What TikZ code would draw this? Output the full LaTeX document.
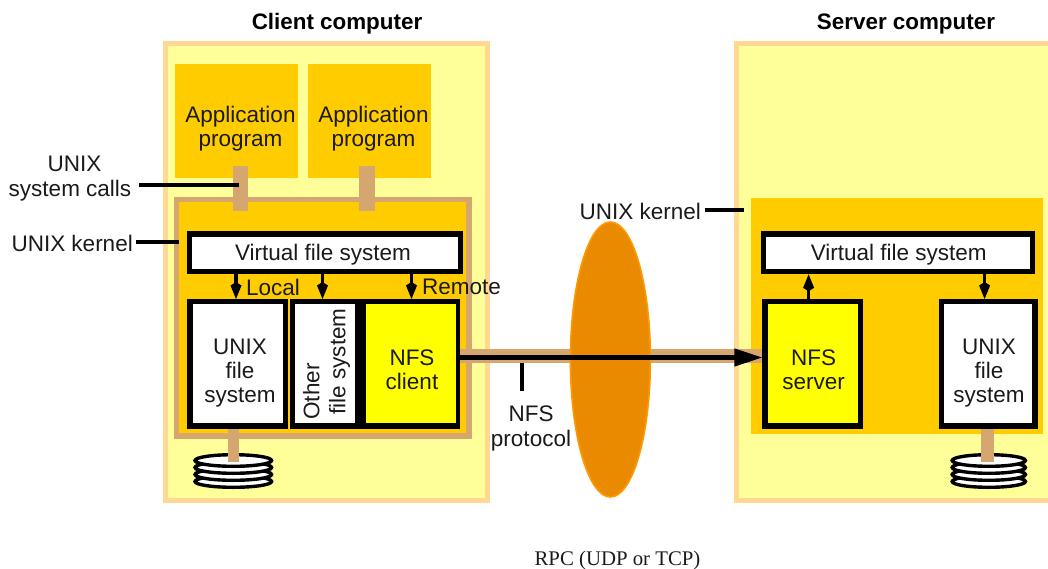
\documentclass[tikz,border=0pt]{standalone}
\usepackage{fontspec}
\setmainfont{Liberation Sans}
\newfontfamily\rpcfont{Liberation Serif}
\usetikzlibrary{arrows.meta,shapes.geometric}
\definecolor{paleyellow}{HTML}{FFFF99}
\definecolor{paleborder}{HTML}{FFD893}
\definecolor{amberfill}{HTML}{FFCC00}
\definecolor{tanlink}{HTML}{D5A670}
\definecolor{netfill}{HTML}{E98A00}
\definecolor{netedge}{HTML}{FF9900}
\definecolor{nfsyellow}{HTML}{FFFF00}
\definecolor{txt}{HTML}{1A1A1A}
\tikzset{
  x=1pt,y=-1pt,
  box/.style={inner sep=0pt,outer sep=0pt},
  computer/.style={box,draw=paleborder,fill=paleyellow,line width=5pt},
  appbox/.style={box,fill=amberfill,minimum width=123pt,minimum height=114pt},
  fsbox/.style={box,draw=black,fill=white,line width=5.4pt},
  nfsbox/.style={box,draw=black,fill=nfsyellow,line width=5.4pt},
  stub/.style={box,fill=tanlink},
  leader/.style={draw=black,line width=3.8pt},
  lbl/.style={font=\fontsize{22.5}{24.3}\selectfont,text=txt,align=center,inner sep=0pt},
  title/.style={font=\fontsize{22.4}{24}\selectfont\bfseries,inner sep=0pt},
  fsarrow/.style={draw=black,line width=3.2pt,-{Kite[length=17pt,width=11pt,inset=3.5pt]}},
  platter/.style={fill=white,draw=black,line width=3.4pt},
}
\begin{document}
\begin{tikzpicture}
\clip (0,0) rectangle (1048,569);
\useasboundingbox (0,0) rectangle (1048,569);
% computers
\node[computer,minimum width=322pt,minimum height=457pt] (clientbox) at (326.5,272) {};
\node[computer,minimum width=322pt,minimum height=457pt] (serverbox) at (897.4,272) {};
\node[title] (clienttitle) at (337,24) {Client computer};
\node[title] (servertitle) at (906,24) {Server computer};
% applications
\node[appbox] (app1) at (236.8,120.7) {};
\node[appbox] (app2) at (369.8,120.7) {};
\node[lbl] (app1t) at (240.5,129) {Application\\program};
\node[lbl] (app2t) at (373.5,129) {Application\\program};
% kernels
\node[box,draw=tanlink,fill=amberfill,line width=5.4pt,minimum width=292.5pt,minimum height=236.5pt] (ckernel) at (322.9,317.7) {};
\node[stub,minimum width=14.4pt,minimum height=45pt] (call1) at (240.5,188.5) {};
\node[stub,minimum width=16pt,minimum height=45pt] (call2) at (367,188.5) {};
\node[box,fill=amberfill,minimum width=292pt,minimum height=236.3pt] (skernel) at (896.6,316.2) {};
% disks
\foreach \cy in {481.5,474.5,467.5,460.5}{
  \filldraw[platter] (233.3,\cy) ellipse [x radius=38.3pt,y radius=5.8pt];
  \filldraw[platter] (988.8,\cy) ellipse [x radius=36.6pt,y radius=5.8pt];
}
\node[stub,minimum width=11.4pt,minimum height=34pt] (cstem) at (233.3,445) {};
\node[stub,minimum width=13pt,minimum height=34pt] (sstem) at (987.2,445) {};
% client file systems
\node[fsbox,minimum width=270.9pt,minimum height=37.6pt] (cvfs) at (325.2,252.8) {};
\node[lbl] (cvfst) at (323,255) {Virtual file system};
\node[fsbox,minimum width=95.6pt,minimum height=124.3pt] (cufs) at (237.7,363.8) {};
\node[lbl] (cufst) at (240,373) {UNIX\\file\\system};
\node[box,fill=black,minimum width=170.3pt,minimum height=129.7pt] (cright) at (375.2,363.8) {};
\node[box,fill=white,minimum width=59.7pt,minimum height=118.7pt] (cother) at (325.2,363.7) {};
\node[box,fill=nfsyellow,minimum width=90pt,minimum height=118.7pt] (cnfs) at (411,363.7) {};
\node[lbl,rotate=90,align=left] (cothert) at (326.5,364) {Other\\[1.6pt]\hspace*{5pt}file system};
\node[lbl] (cnfst) at (412,370) {NFS\\client};
% client arrows
\draw[fsarrow] (236,274.3) -- (236,299);
\draw[fsarrow] (322.5,274.3) -- (322.5,299);
\draw[fsarrow] (411.5,274.3) -- (411.5,299);
\node[lbl,anchor=west] (localt) at (246,287) {Local};
\node[lbl,anchor=west] (remotet) at (422,287) {Remote};
% server file systems
\node[fsbox,minimum width=268.6pt,minimum height=37.6pt] (svfs) at (898,252.8) {};
\node[lbl] (svfst) at (898.8,255) {Virtual file system};
\node[nfsbox,minimum width=95.6pt,minimum height=124.3pt] (snfs) at (812.9,363.8) {};
\node[lbl] (snfst) at (813.6,370) {NFS\\server};
\node[fsbox,minimum width=93.9pt,minimum height=124.3pt] (sufs) at (988.2,363.8) {};
\node[lbl] (sufst) at (989,373) {UNIX\\file\\system};
\draw[fsarrow] (808.6,299) -- (808.6,274.3);
\draw[fsarrow] (984.6,274.3) -- (984.6,299);
% protocol link
\node[stub,minimum width=302pt,minimum height=14pt] (band) at (611.3,356.3) {};
\node[draw=netedge,fill=netfill,line width=1.6pt,ellipse,minimum width=80pt,minimum height=275pt,inner sep=0pt] (net) at (610.4,359.5) {};
\coordinate (linkstart) at (460.3,357.5);
\coordinate (linkend) at (762.4,357.5);
\draw[draw=black,line width=4.2pt,-{Triangle[length=28pt,width=17pt]}] (linkstart) -- (linkend);
\coordinate (protoa) at (522.3,363.3);
\coordinate (protob) at (522.3,390.7);
\draw[leader] (protoa) -- (protob);
\node[lbl] (protot) at (531,428.5) {NFS\\protocol};
% leaders
\node[lbl] (calls) at (70,178.5) {\hspace*{9pt}UNIX\\system calls};
\node[lbl,anchor=east] (ck) at (133,243) {UNIX kernel};
\node[lbl,anchor=east] (sk) at (701,211) {UNIX kernel};
\coordinate (callsa) at (139,185.3);
\coordinate (callsb) at (239,185.3);
\coordinate (cka) at (136,242);
\coordinate (ckb) at (179,242);
\coordinate (ska) at (704.5,210);
\coordinate (skb) at (744,210);
\draw[leader] (callsa) -- (callsb);
\draw[leader] (cka) -- (ckb);
\draw[leader] (ska) -- (skb);
\node[inner sep=0pt,font=\fontsize{20.8}{22}\selectfont\rpcfont,text=txt] (rpc) at (617.5,560.5) {RPC (UDP or TCP)};
\end{tikzpicture}
\end{document}
